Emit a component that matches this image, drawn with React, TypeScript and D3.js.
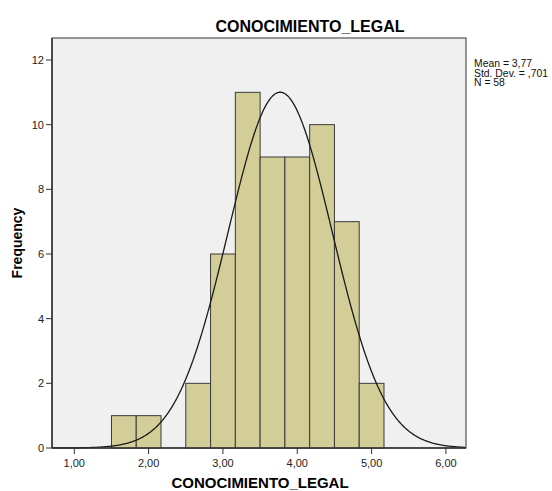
import React from "react";
import * as d3 from "d3";

const binStarts = [1.5, 1.8333, 2.1667, 2.5, 2.8333, 3.1667, 3.5, 3.8333, 4.1667, 4.5, 4.8333];
const counts = [1, 1, 0, 2, 6, 11, 9, 9, 10, 7, 2];
const binWidth = 1 / 3;
const xTicks = [1, 2, 3, 4, 5, 6];
const yTicks = [0, 2, 4, 6, 8, 10, 12];
const mean = 3.77;
const sd = 0.701;
const n = 58;
const legendLines = ["Mean = 3,77", "Std. Dev. = ,701", "N = 58"];

const W = 552, H = 491;
const L = 52, R = 466, T = 38, B = 448;

export default function App() {
  const x = d3.scaleLinear().domain([0.7, 6.27]).range([L, R]);
  const y = d3.scaleLinear().domain([0, 12.68]).range([B, T]);
  const fmt = (v: number) => v.toFixed(2).replace(".", ",");
  const pts = d3.range(0.7, 6.27, 0.01).map((v) => [v, n * binWidth * Math.exp(-0.5 * ((v - mean) / sd) ** 2) / (sd * Math.sqrt(2 * Math.PI))] as [number, number]);
  const line = d3.line<[number, number]>().x((d) => x(d[0])).y((d) => y(d[1])).curve(d3.curveLinear);
  const font = "Liberation Sans, Arial, sans-serif";
  return (
    <svg width={W} height={H} style={{ position: "absolute", left: 0, top: 0 }} fontFamily={font}>
      <rect x={0} y={0} width={W} height={H} fill="#fff" />
      <text x={310} y={32} textAnchor="middle" fontWeight="bold" fontSize={16}>CONOCIMIENTO_LEGAL</text>
      <rect x={L} y={T} width={R - L} height={B - T} fill="#f0f0f0" stroke="#333" strokeWidth={1} />
      {counts.map((c, i) => c > 0 ? (
        <rect key={i} x={x(binStarts[i])} y={y(c)} width={x(binStarts[i] + binWidth) - x(binStarts[i])} height={B - y(c)}
          fill="#d3ce98" stroke="#3a3a3a" strokeWidth={1} />
      ) : null)}
      <path d={line(pts) || ""} fill="none" stroke="#1a1a1a" strokeWidth={1.3} />
      <line x1={L} x2={L} y1={T} y2={B} stroke="#333" strokeWidth={1.5} />
      <line x1={L} x2={R} y1={B} y2={B} stroke="#333" strokeWidth={1.5} />
      {yTicks.map((t) => (
        <g key={t}>
          <line x1={L - 6} x2={L} y1={y(t)} y2={y(t)} stroke="#333" />
          <text x={L - 8} y={y(t) + 4} textAnchor="end" fontSize={11} fill="#222">{t}</text>
        </g>
      ))}
      {xTicks.map((t) => (
        <g key={t}>
          <line x1={x(t)} x2={x(t)} y1={B} y2={B + 6} stroke="#333" />
          <text x={x(t)} y={B + 19} textAnchor="middle" fontSize={11} fill="#222">{fmt(t)}</text>
        </g>
      ))}
      <text x={260} y={488} textAnchor="middle" fontWeight="bold" fontSize={15}>CONOCIMIENTO_LEGAL</text>
      <text transform={`translate(22,${(T + B) / 2}) rotate(-90)`} textAnchor="middle" fontWeight="bold" fontSize={14}>Frequency</text>
      {legendLines.map((s, i) => (
        <text key={i} x={474} y={67 + i * 9.5} fontSize={10.4} fill="#111">{s}</text>
      ))}
    </svg>
  );
}
